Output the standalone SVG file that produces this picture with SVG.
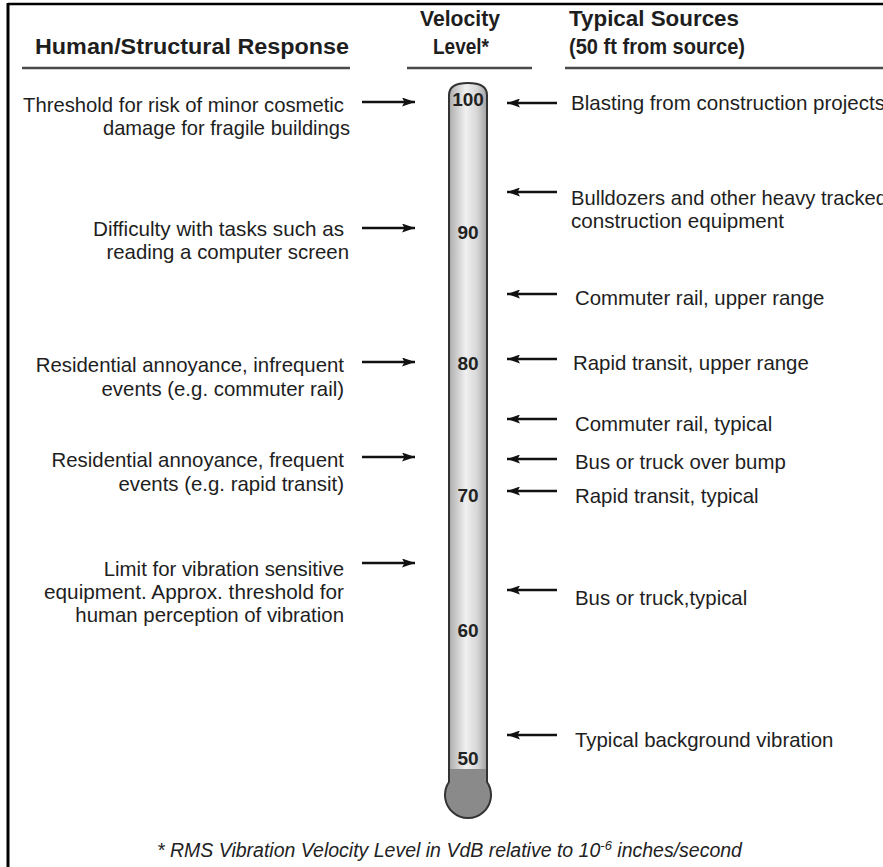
<svg xmlns="http://www.w3.org/2000/svg" width="883" height="867" viewBox="0 0 883 867">
<defs>
<style>
.hd{font-family:"Liberation Sans",Arial,sans-serif;font-weight:bold;font-size:22.5px;fill:#1e1e1e}
.tx{font-family:"Liberation Sans",Arial,sans-serif;font-size:20.4px;fill:#1e1e1e}
.lt{text-anchor:end}
.num{font-family:"Liberation Sans",Arial,sans-serif;font-weight:bold;font-size:19px;fill:#222;text-anchor:middle}
.ft{font-family:"Liberation Sans",Arial,sans-serif;font-style:italic;font-size:19.5px;fill:#222}
.rule{stroke:#4a4a4a;stroke-width:2.5;fill:none}
.arr{stroke:#111;stroke-width:2.3;fill:none;marker-end:url(#ah)}
</style>
<marker id="ah" viewBox="0 0 13 9" refX="13" refY="4.5" markerWidth="13" markerHeight="9" markerUnits="userSpaceOnUse" orient="auto">
<path d="M0,0 L13,4.5 L0,9 L2.5,4.5 Z" fill="#111"/>
</marker>
<linearGradient id="tube" x1="0" y1="0" x2="1" y2="0">
<stop offset="0" stop-color="#8a8a8a"/>
<stop offset="0.15" stop-color="#b8b8b8"/>
<stop offset="0.45" stop-color="#f0f0f0"/>
<stop offset="0.7" stop-color="#d6d6d6"/>
<stop offset="0.9" stop-color="#a4a4a4"/>
<stop offset="1" stop-color="#7c7c7c"/>
</linearGradient>
</defs>
<rect width="883" height="867" fill="#fff"/>
<g id="frame">
<line x1="8" y1="4" x2="883" y2="4" stroke="#000" stroke-width="2.5"/>
<line x1="8" y1="3" x2="8" y2="867" stroke="#000" stroke-width="3"/>
</g>
<g id="header">
<text class="hd" x="35" y="54" textLength="314" lengthAdjust="spacingAndGlyphs">Human/Structural Response</text>
<text class="hd" x="460" y="26" text-anchor="middle" textLength="80" lengthAdjust="spacingAndGlyphs">Velocity</text>
<text class="hd" x="461" y="54" text-anchor="middle" textLength="56" lengthAdjust="spacingAndGlyphs">Level*</text>
<text class="hd" x="569" y="26" textLength="170" lengthAdjust="spacingAndGlyphs">Typical Sources</text>
<text class="hd" x="569" y="54" textLength="176" lengthAdjust="spacingAndGlyphs">(50 ft from source)</text>
<line class="rule" x1="22" y1="68" x2="350" y2="68"/>
<line class="rule" x1="407" y1="68" x2="532" y2="68"/>
<line class="rule" x1="565" y1="68" x2="883" y2="68"/>
</g>
<g id="thermometer">
<path d="M449,95 Q449,83 468,83 Q487,83 487,95 L487,782 A23,23 0 1 1 449,782 Z" fill="url(#tube)"/>
<path d="M449,769 L487,769 L487,782 A23,23 0 1 1 449,782 Z" fill="#8a8a8a"/>
<path d="M449,95 Q449,83 468,83 Q487,83 487,95 L487,782 A23,23 0 1 1 449,782 Z" fill="none" stroke="#333" stroke-width="2"/>
<text class="num" x="468" y="106">100</text>
<text class="num" x="468" y="239">90</text>
<text class="num" x="468" y="370">80</text>
<text class="num" x="468" y="502">70</text>
<text class="num" x="468" y="637">60</text>
<text class="num" x="468" y="765">50</text>
</g>
<g id="connectors">
<line class="arr" x1="362" y1="102" x2="415" y2="102"/>
<line class="arr" x1="362" y1="228" x2="415" y2="228"/>
<line class="arr" x1="362" y1="362" x2="415" y2="362"/>
<line class="arr" x1="362" y1="457" x2="415" y2="457"/>
<line class="arr" x1="362" y1="563" x2="415" y2="563"/>
<line class="arr" x1="557" y1="103" x2="507" y2="103"/>
<line class="arr" x1="557" y1="192" x2="507" y2="192"/>
<line class="arr" x1="557" y1="294" x2="507" y2="294"/>
<line class="arr" x1="557" y1="359" x2="507" y2="359"/>
<line class="arr" x1="557" y1="419" x2="507" y2="419"/>
<line class="arr" x1="557" y1="459" x2="507" y2="459"/>
<line class="arr" x1="557" y1="491" x2="507" y2="491"/>
<line class="arr" x1="557" y1="590" x2="507" y2="590"/>
<line class="arr" x1="557" y1="735" x2="507" y2="735"/>
</g>
<g id="resp-threshold">
<text class="tx lt" x="344" y="112" textLength="321" lengthAdjust="spacingAndGlyphs">Threshold for risk of minor cosmetic</text>
<text class="tx lt" x="350" y="135" textLength="247" lengthAdjust="spacingAndGlyphs">damage for fragile buildings</text>
</g>
<g id="resp-difficulty">
<text class="tx lt" x="344" y="236" textLength="251" lengthAdjust="spacingAndGlyphs">Difficulty with tasks such as</text>
<text class="tx lt" x="349" y="259">reading a computer screen</text>
</g>
<g id="resp-infrequent">
<text class="tx lt" x="344" y="372">Residential annoyance, infrequent</text>
<text class="tx lt" x="344" y="396">events (e.g. commuter rail)</text>
</g>
<g id="resp-frequent">
<text class="tx lt" x="344" y="467">Residential annoyance, frequent</text>
<text class="tx lt" x="344" y="491">events (e.g. rapid transit)</text>
</g>
<g id="resp-limit">
<text class="tx lt" x="344" y="576">Limit for vibration sensitive</text>
<text class="tx lt" x="344" y="599" textLength="300" lengthAdjust="spacingAndGlyphs">equipment. Approx. threshold for</text>
<text class="tx lt" x="344" y="622">human perception of vibration</text>
</g>
<g id="src-blasting"><text class="tx" x="571" y="110" textLength="314" lengthAdjust="spacingAndGlyphs">Blasting from construction projects</text></g>
<g id="src-bulldozers">
<text class="tx" x="571" y="205" textLength="316" lengthAdjust="spacingAndGlyphs">Bulldozers and other heavy tracked</text>
<text class="tx" x="571" y="228" textLength="213" lengthAdjust="spacingAndGlyphs">construction equipment</text>
</g>
<g id="src-commuter-upper"><text class="tx" x="575" y="305">Commuter rail, upper range</text></g>
<g id="src-rapid-upper"><text class="tx" x="573" y="370">Rapid transit, upper range</text></g>
<g id="src-commuter-typ"><text class="tx" x="575" y="431">Commuter rail, typical</text></g>
<g id="src-bus-bump"><text class="tx" x="575" y="469">Bus or truck over bump</text></g>
<g id="src-rapid-typ"><text class="tx" x="575" y="503">Rapid transit, typical</text></g>
<g id="src-bus-typ"><text class="tx" x="575" y="605">Bus or truck,typical</text></g>
<g id="src-background"><text class="tx" x="575" y="747">Typical background vibration</text></g>
<g id="footnote">
<text class="ft" x="157" y="857">* RMS Vibration Velocity Level in VdB relative to 10<tspan font-size="13" dy="-7">-6</tspan><tspan dy="7"> inches/second</tspan></text>
</g>
</svg>
